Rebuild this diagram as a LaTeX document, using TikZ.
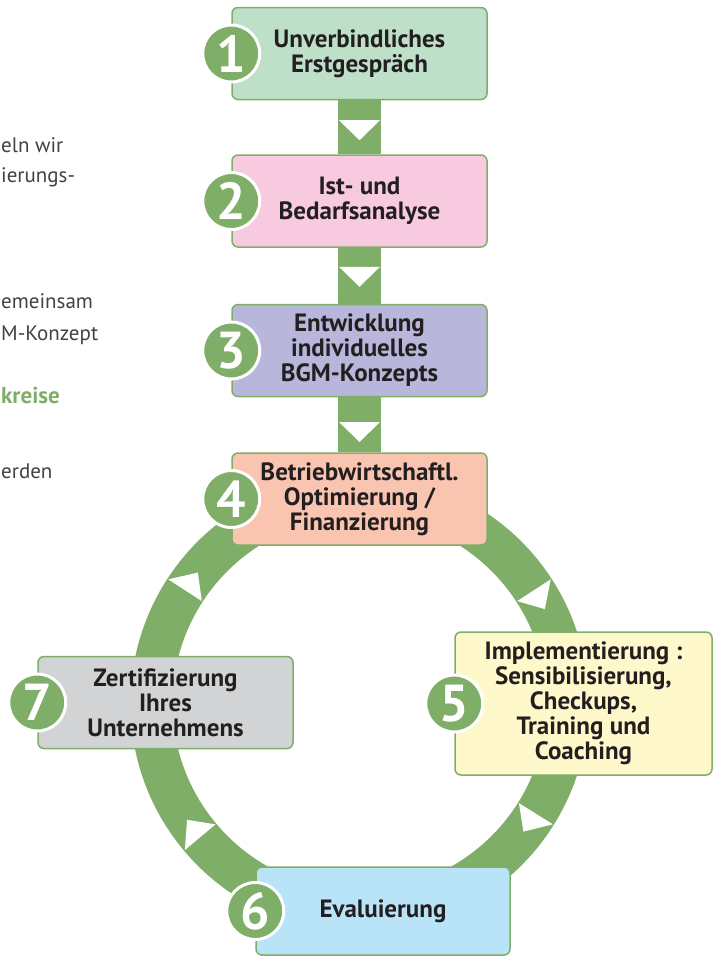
\documentclass[tikz,border=0pt]{standalone}
\usepackage{fontspec}
\setmainfont{PT Sans}
\usetikzlibrary{positioning,calc,backgrounds}

\definecolor{ringgreen}{RGB}{127,174,105}
\definecolor{mint}{RGB}{190,224,201}
\definecolor{rose}{RGB}{248,202,223}
\definecolor{lavender}{RGB}{185,182,219}
\definecolor{salmon}{RGB}{250,197,176}
\definecolor{paleyellow}{RGB}{255,248,202}
\definecolor{skyblue}{RGB}{185,228,248}
\definecolor{lightgray}{RGB}{209,211,212}
\definecolor{txt}{RGB}{35,31,32}
\definecolor{sidegray}{RGB}{65,65,65}

\begin{document}
\begin{tikzpicture}[%
        x=1pt, y=-1pt,
        every node/.style={inner sep=0pt},
        stage/.style={rectangle, rounded corners=6pt, draw=ringgreen, line width=1.5pt,
          minimum width=255pt, minimum height=92pt, align=center, text=txt,
          font=\bfseries\fontsize{25}{25}\selectfont},
        num/.style={circle, fill=ringgreen, draw=white, line width=3pt, minimum size=57pt,
          text=white, font=\bfseries\fontsize{52}{52}\selectfont},
        side/.style={anchor=base west, text=sidegray, font=\fontsize{21}{21}\selectfont},
        bar/.style={draw=ringgreen, line width=43pt},
        node distance=54pt
      ]
      \useasboundingbox (0,0) rectangle (718,956);

      % fragments of the neighbouring column
      \node [side] (l1) at (1,152) {eln wir};
      \node [side] (l2) at (1,182) {ierungs-};
      \node [side] (l3) at (1,308) {emeinsam};
      \node [side] (l4) at (1,340) {M-Konzept};
      \node [side] (l5) [text=ringgreen, font=\bfseries\fontsize{23}{23}\selectfont] at (1,403) {kreise};
      \node [side] (l6) at (1,478) {erden};

      % stages
      \node [stage, fill=mint] (s1) at (359.5,53.5) {Unverbindliches\\Erstgespräch};
      \node [stage, fill=rose, below=54pt of s1] (s2) {Ist- und\\Bedarfsanalyse};
      \node [stage, fill=lavender, below=56pt of s2] (s3) {Entwicklung\\individuelles\\BGM-Konzepts};
      \node [stage, fill=salmon, below=55pt of s3] (s4) {Betriebwirtschaftl.\\Optimierung /\\Finanzierung};
      \node [stage, fill=paleyellow, minimum width=257pt, minimum height=143pt] (s5) at (583.5,703.5)
        {Implementierung :\\Sensibilisierung,\\Checkups,\\Training und\\Coaching};
      \node [stage, fill=skyblue, minimum width=254pt, minimum height=88pt] (s6) at (383,911) {Evaluierung};
      \node [stage, fill=lightgray] (s7) at (165.5,702.5) {Zertifizierung\\Ihres\\Unternehmens};

      \foreach \i in {1,...,7}
        \node [num] (n\i) at (s\i.west) {\i};

      \coordinate (ringc) at (s4 |- s5);

      \begin{pgfonlayer}{background}
        \draw [bar] (s1) -- (s2);
        \draw [bar] (s2) -- (s3);
        \draw [bar] (s3) -- (s4);
        \draw [draw=ringgreen, line width=42pt] (ringc) circle [radius=208pt];
        \foreach \a/\b/\p in {s1/s2/0.37, s2/s3/0.34, s3/s4/0.45}
          \fill [white] ($(\a.south)!\p!(\b.north)$) ++(-20.5,0) -- ++(41,0) -- ++(-20.5,20) -- cycle;
        \foreach \t in {-33,32,140,213}
          \fill [white] ($(ringc)+(\t:188)$) -- ($(ringc)+(\t:228)$) -- ($(ringc)+(\t+6:208)$) -- cycle;
      \end{pgfonlayer}
    \end{tikzpicture}
\end{document}
